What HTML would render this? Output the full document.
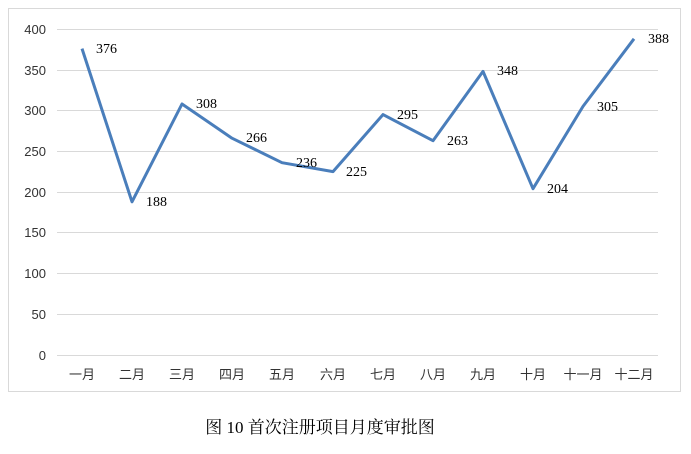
<!DOCTYPE html>
<html><head><meta charset="utf-8"><style>
body{margin:0;background:#fff;width:691px;height:449px;overflow:hidden}
</style></head><body>
<svg width="691" height="449" xmlns="http://www.w3.org/2000/svg" font-family="'Liberation Serif','Noto Serif CJK SC',serif">
<rect x="8.5" y="8.5" width="672" height="383" fill="#fff" stroke="#d9d9d9"/>
<g stroke="#d9d9d9" stroke-width="1">
<line x1="57" x2="658" y1="29.5" y2="29.5"/><line x1="57" x2="658" y1="70.5" y2="70.5"/>
<line x1="57" x2="658" y1="110.5" y2="110.5"/><line x1="57" x2="658" y1="151.5" y2="151.5"/>
<line x1="57" x2="658" y1="192.5" y2="192.5"/><line x1="57" x2="658" y1="232.5" y2="232.5"/>
<line x1="57" x2="658" y1="273.5" y2="273.5"/><line x1="57" x2="658" y1="314.5" y2="314.5"/>
<line x1="57" x2="658" y1="355.5" y2="355.5"/>
</g>
<g font-family="'Liberation Sans',sans-serif" font-size="13" fill="#333" text-anchor="end">
<text x="46" y="34">400</text><text x="46" y="75">350</text><text x="46" y="115">300</text>
<text x="46" y="156">250</text><text x="46" y="197">200</text><text x="46" y="237">150</text>
<text x="46" y="278">100</text><text x="46" y="319">50</text><text x="46" y="360">0</text>
</g>
<g font-family="'Noto Sans CJK SC',sans-serif" font-size="13" fill="#333" text-anchor="middle">
<text x="82" y="379">一月</text><text x="132" y="379">二月</text><text x="182" y="379">三月</text>
<text x="232" y="379">四月</text><text x="282" y="379">五月</text><text x="333" y="379">六月</text>
<text x="383" y="379">七月</text><text x="433" y="379">八月</text><text x="483" y="379">九月</text>
<text x="533" y="379">十月</text><text x="583" y="379">十一月</text><text x="634" y="379">十二月</text>
</g>
<polyline fill="none" stroke="#4a7ebb" stroke-width="3" stroke-linejoin="round" points="82,48.6 132,201.8 182,104 232,138.2 282,162.7 333,171.6 383,114.6 433,140.7 483,71.4 533,188.7 583,106.4 634,38.8"/>
<g font-size="14" fill="#000">
<text x="96" y="53">376</text><text x="146" y="206">188</text><text x="196" y="108">308</text>
<text x="246" y="142">266</text><text x="296" y="167">236</text><text x="346" y="176">225</text>
<text x="397" y="119">295</text><text x="447" y="145">263</text><text x="497" y="75">348</text>
<text x="547" y="193">204</text><text x="597" y="111">305</text><text x="648" y="43">388</text>
</g>
<text x="320" y="433" font-size="17" text-anchor="middle" fill="#000">图 10  首次注册项目月度审批图</text>
</svg>
</body></html>
